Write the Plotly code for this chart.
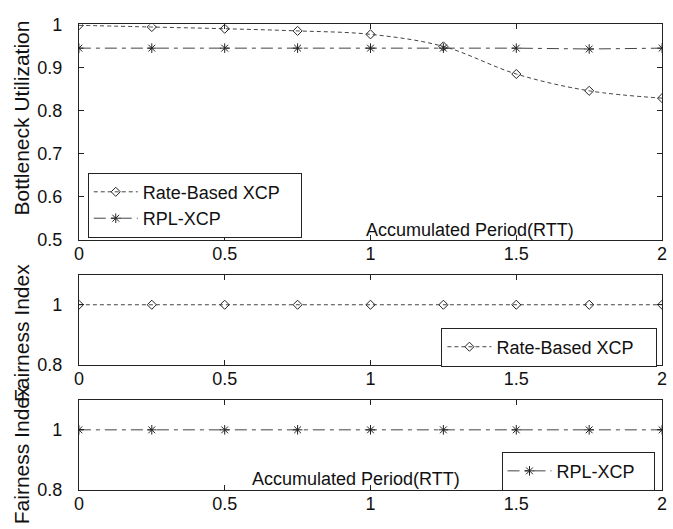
import plotly.graph_objects as go

x_vals = [0, 0.25, 0.5, 0.75, 1.0, 1.25, 1.5, 1.75, 2.0]
util_rate = [0.998, 0.994, 0.990, 0.985, 0.977, 0.949, 0.885, 0.846, 0.829]
util_rpl = [0.945, 0.945, 0.945, 0.945, 0.945, 0.945, 0.945, 0.943, 0.945]
fair_rate = [1, 1, 1, 1, 1, 1, 1, 1, 1]
fair_rpl = [1, 1, 1, 1, 1, 1, 1, 1, 1]
x_ticks = [0, 0.5, 1, 1.5, 2]
x_ticklabels = ["0", "0.5", "1", "1.5", "2"]
util_ticks = [0.5, 0.6, 0.7, 0.8, 0.9, 1]
util_ticklabels = ["0.5", "0.6", "0.7", "0.8", "0.9", "1"]
fair_ticks = [0.8, 1]
fair_ticklabels = ["0.8", "1"]
name_rate = "Rate-Based XCP"
name_rpl = "RPL-XCP"
xtitle = "Accumulated Period(RTT)"

W, H = 673, 529
FONT = "Liberation Sans, Arial, sans-serif"
PAD = "\u00a0\u00a0\u00a0"

def px(v):
    return v / W

def py(v):
    return (H - v) / H

fig = go.Figure()

rate_line = dict(color="#444444", width=1, dash="4px,3px")
rpl_line = dict(color="#444444", width=1, dash="12px,5px,4px,5px")
rate_marker = dict(symbol="diamond-open", size=7, color="#222", line=dict(width=1, color="#222"))
rpl_marker = dict(symbol="asterisk-open", size=8, color="#222", line=dict(width=1, color="#222"))

fig.add_trace(go.Scatter(x=x_vals, y=util_rate, name=name_rate + PAD, mode="lines+markers",
                         line=dict(shape="spline", **rate_line), marker=rate_marker,
                         xaxis="x", yaxis="y", legend="legend"))
fig.add_trace(go.Scatter(x=x_vals, y=util_rpl, name=name_rpl, mode="lines+markers",
                         line=rpl_line, marker=rpl_marker,
                         xaxis="x", yaxis="y", legend="legend"))
fig.add_trace(go.Scatter(x=x_vals, y=fair_rate, name=name_rate, mode="lines+markers",
                         line=rate_line, marker=rate_marker,
                         xaxis="x2", yaxis="y2", legend="legend2"))
fig.add_trace(go.Scatter(x=x_vals, y=fair_rpl, name=name_rpl, mode="lines+markers",
                         line=rpl_line, marker=rpl_marker,
                         xaxis="x3", yaxis="y3", legend="legend3"))

xdom = [px(75), px(667)]
common_x = dict(range=[0, 2], tickvals=x_ticks, ticktext=x_ticklabels, ticks="inside",
                ticklen=5, tickcolor="#222", showline=True, linecolor="#222", linewidth=1,
                mirror="ticks", showgrid=False, zeroline=False, domain=xdom,
                tickfont=dict(size=18, color="#111", family=FONT), ticklabelstandoff=-3)
common_y = dict(ticks="inside", ticklen=5, tickcolor="#222", showline=True, linecolor="#222",
                linewidth=1, mirror="ticks", showgrid=False, zeroline=False,
                tickfont=dict(size=18, color="#111", family=FONT), ticklabelstandoff=12)

leg_common = dict(xanchor="left", yanchor="top", bordercolor="#222", borderwidth=1,
                  bgcolor="white", font=dict(size=18, family=FONT, color="#111"),
                  itemwidth=44)

fig.update_layout(
    width=W, height=H, margin=dict(l=0, r=0, t=0, b=0),
    paper_bgcolor="white", plot_bgcolor="white",
    font=dict(family=FONT, size=18, color="#111"),
    xaxis=dict(anchor="y", **common_x),
    yaxis=dict(anchor="x", range=[0.5, 1], tickvals=util_ticks, ticktext=util_ticklabels,
               domain=[py(239), py(15)], **common_y),
    xaxis2=dict(anchor="y2", **common_x),
    yaxis2=dict(anchor="x2", range=[0.8, 1.1], tickvals=fair_ticks, ticktext=fair_ticklabels,
                domain=[py(369), py(275)], **common_y),
    xaxis3=dict(anchor="y3", **common_x),
    yaxis3=dict(anchor="x3", range=[0.8, 1.1], tickvals=fair_ticks, ticktext=fair_ticklabels,
                domain=[py(499), py(405)], **common_y),
    legend=dict(x=px(84), y=py(169), **leg_common),
    legend2=dict(x=px(443), y=py(330), orientation="h", entrywidth=155, **leg_common),
    legend3=dict(x=px(504), y=py(459), orientation="h", entrywidth=92, **leg_common),
    showlegend=True,
)

ann_font = dict(size=21, family=FONT, color="#111")
annotations = [
    dict(text="Bottleneck Utilization", x=px(17), y=py(112), xref="paper", yref="paper",
         xanchor="center", yanchor="middle", textangle=-90, showarrow=False, font=ann_font),
    dict(text="Fairness Index", x=px(17), y=py(336), xref="paper", yref="paper",
         xanchor="center", yanchor="middle", textangle=-90, showarrow=False, font=ann_font),
    dict(text="Fairness Index", x=px(17), y=py(463), xref="paper", yref="paper",
         xanchor="center", yanchor="middle", textangle=-90, showarrow=False, font=ann_font),
    dict(text=xtitle, x=px(472), y=py(229), xref="paper", yref="paper",
         xanchor="center", yanchor="middle", showarrow=False,
         font=dict(size=18, family=FONT, color="#111")),
    dict(text=xtitle, x=px(356), y=py(487), xref="paper", yref="paper",
         xanchor="center", yanchor="middle", showarrow=False,
         font=dict(size=18, family=FONT, color="#111")),
]
fig.update_layout(annotations=annotations)

fig.write_html("out.html")
